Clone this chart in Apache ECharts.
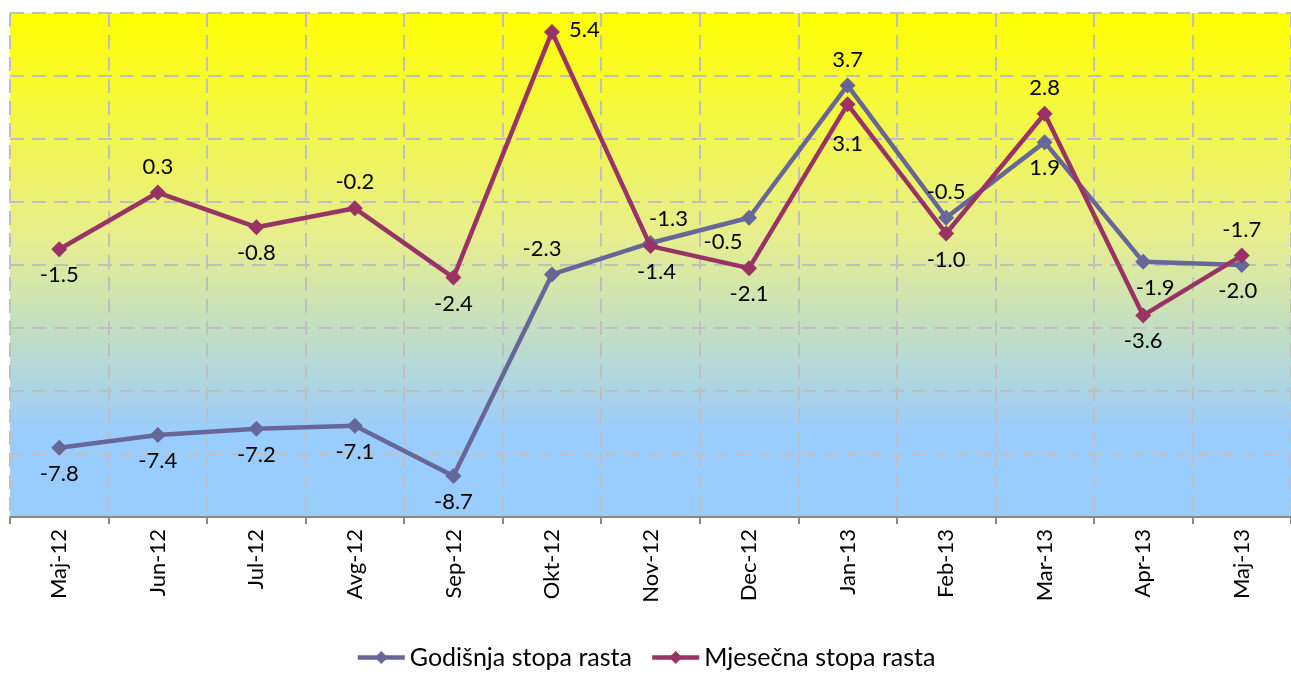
<!DOCTYPE html>
<html><head><meta charset="utf-8">
<script src="https://cdn.jsdelivr.net/npm/echarts@6/dist/echarts.min.js"></script>
<style>html,body{margin:0;padding:0;background:#fff}#c{width:1291px;height:677px}</style>
</head><body><div id="c"></div>
<script>
const categories = ['Maj-12','Jun-12','Jul-12','Avg-12','Sep-12','Okt-12','Nov-12','Dec-12','Jan-13','Feb-13','Mar-13','Apr-13','Maj-13'];
const godisnja = [-7.8,-7.4,-7.2,-7.1,-8.7,-2.3,-1.3,-0.5,3.7,-0.5,1.9,-1.9,-2.0];
const mjesecna = [-1.5,0.3,-0.8,-0.2,-2.4,5.4,-1.4,-2.1,3.1,-1.0,2.8,-3.6,-1.7];
const seriesNames = ['Godišnja stopa rasta','Mjesečna stopa rasta'];

const FONT = 'Lato';
const gPos = [['bottom',[0,0]],['bottom',[0,0]],['bottom',[0,0]],['bottom',[0,0]],['bottom',[0,0]],
  ['top',[-10,0]],['top',[18,2]],['bottom',[-26,-2]],['top',[0,0]],['top',[0,0]],['bottom',[0,0]],['bottom',[12,0]],['bottom',[-4,0]]];
const mPos = [['bottom',[0,0]],['top',[0,0]],['bottom',[0,0]],['top',[0,0]],['bottom',[0,0]],
  ['right',[2,-2]],['bottom',[6,0]],['bottom',[0,0]],['bottom',[0,14]],['bottom',[0,0]],['top',[0,0]],['bottom',[0,0]],['top',[0,0]]];

function mk(vals, pos){
  return vals.map((v,i)=>({value:v,label:{position:pos[i][0],offset:pos[i][1]}}));
}
const lbl = {show:true,fontFamily:FONT,fontSize:22,color:'#000',distance:7,formatter:p=>p.value.toFixed(1)};

const chart = echarts.init(document.getElementById('c'),null,{renderer:'canvas'});
chart.setOption({
  animation:false,
  backgroundColor:'#fff',
  grid:{left:10,top:13,width:1291,height:504,show:true,borderWidth:0,
    backgroundColor:new echarts.graphic.LinearGradient(0,0,0,1,[
      {offset:0,color:'#FFFF00'},{offset:0.45,color:'#E6EE90'},{offset:0.84,color:'#99CCFF'},{offset:1,color:'#99CCFF'}])},
  legend:{bottom:2,left:'center',itemWidth:47,itemHeight:16,itemGap:18,
    lineStyle:{width:4.5},
    textStyle:{fontFamily:FONT,fontSize:25,color:'#000'},data:seriesNames},
  xAxis:{type:'category',data:categories,boundaryGap:true,
    axisLine:{onZero:false,lineStyle:{color:'#888',width:2}},
    axisTick:{show:true,length:7,lineStyle:{color:'#888',width:2}},
    splitLine:{show:true,lineStyle:{color:'#BFBFBF',type:[14,8],width:2}},
    axisLabel:{rotate:90,fontFamily:FONT,fontSize:22,color:'#000',margin:12}},
  yAxis:{type:'value',min:-10,max:6,interval:2,
    axisLine:{show:false},axisTick:{show:false},axisLabel:{show:false},
    splitLine:{show:true,lineStyle:{color:'#BFBFBF',type:[14,8],width:2}}},
  series:[
    {name:seriesNames[0],type:'line',data:mk(godisnja,gPos),symbol:'diamond',symbolSize:16,
     lineStyle:{color:'#666699',width:4.5},itemStyle:{color:'#666699'},label:lbl,z:2},
    {name:seriesNames[1],type:'line',data:mk(mjesecna,mPos),symbol:'diamond',symbolSize:16,
     lineStyle:{color:'#993366',width:4.5},itemStyle:{color:'#993366'},label:lbl,z:3}
  ]
});
</script></body></html>
